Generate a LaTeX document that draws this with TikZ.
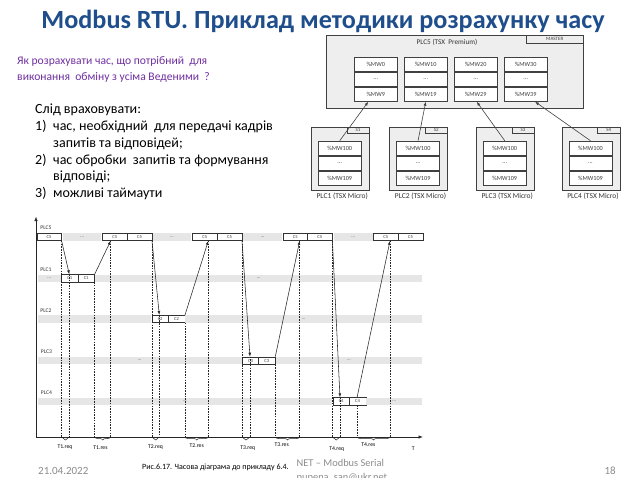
\documentclass[tikz,border=0pt]{standalone}
\usepackage{fontspec}
\setmainfont{Carlito}
\usetikzlibrary{arrows.meta,decorations.pathreplacing,calc}

\definecolor{titleblue}{HTML}{1F4E8C}
\definecolor{qpurple}{HTML}{7030A0}
\definecolor{footgray}{HTML}{8C8C8C}
\definecolor{linegray}{HTML}{404040}
\definecolor{boxfill}{HTML}{EEEEEE}
\definecolor{bandfill}{HTML}{E6E6E6}

\begin{document}
\begin{tikzpicture}[x=1pt,y=-1pt,
  % network sketch (top right)
  lnk/.style={draw=linegray, line width=0.6pt, -{Latex[length=4pt,width=3pt]}},
  reg/.style={draw=linegray, fill=white, line width=0.5pt, minimum width=43pt,
    minimum height=14.5pt, inner sep=0pt, font=\fontsize{6.2}{7}\selectfont, text=black!75},
  plcbox/.style={draw=linegray, fill=boxfill, line width=0.5pt, inner sep=0pt},
  tagbox/.style={draw=linegray, fill=boxfill, line width=0.5pt, inner sep=0pt,
    font=\fontsize{5}{5}\selectfont, text=black!75},
  plclbl/.style={font=\fontsize{7.5}{8}\selectfont, text=black!80, inner sep=0pt},
  % timing diagram
  tbox/.style={draw=black!80, fill=white, line width=0.5pt, minimum height=7.3pt,
    inner sep=0pt, anchor=north west, font=\fontsize{4.6}{5}\selectfont, text=black!75},
  mfr/.style={tbox, minimum width=24.6pt},
  sfr/.style={tbox, minimum width=16.4pt},
  band/.style={fill=bandfill, minimum height=7.3pt, inner sep=0pt, anchor=north west,
    font=\fontsize{4.6}{5}\selectfont, text=black!75},
  msg/.style={draw=black!85, line width=0.55pt, -{Latex[length=4pt,width=2.8pt]}},
  ev/.style={draw=black!85, dash pattern=on 1.6pt off 1.1pt, line width=0.55pt},
  brc/.style={draw=black!85, decorate, decoration={brace, mirror, amplitude=3pt}, line width=0.5pt},
  tl/.style={font=\fontsize{5.7}{6}\selectfont, inner sep=0pt},
  rowlbl/.style={font=\fontsize{5.6}{6}\selectfont, inner sep=0pt, text=black!80},
  axis/.style={draw=black!85, line width=0.7pt, -{Latex[length=4.5pt,width=3.4pt]}},
  body/.style={font=\fontsize{14}{16}\selectfont, inner sep=0pt, anchor=base west},
  foot/.style={inner sep=0pt, anchor=base west}
]
\useasboundingbox (0,0) rectangle (640,477);
\fill[white] (0,0) rectangle (640,477);

% ---------- title and text ----------
\node[font=\bfseries\fontsize{26.2}{30}\selectfont, text=titleblue, anchor=base, inner sep=0pt]
  (title) at (323,28) {Modbus RTU. Приклад методики розрахунку часу};

\node[font=\fontsize{11.6}{16}\selectfont, text=qpurple, anchor=base west, inner sep=0pt]
  (q1) at (17,64) {Як розрахувати час, що потрібний\ \ для};
\node[font=\fontsize{11.6}{16}\selectfont, text=qpurple, anchor=base west, inner sep=0pt]
  (q2) at (17,80.5) {виконання\ \ обміну з усіма Веденими\ \ ?};

\node[body] (h0) at (35,113) {Слід враховувати:};
\node[body] (n1) at (35,130) {1)};
\node[body] (t1) at (53,130) {час, необхідний\ \ для передачі кадрів};
\node[body] (t1b) at (53,147) {запитів та відповідей;};
\node[body] (n2) at (35,164) {2)};
\node[body] (t2) at (53,164) {час обробки\ \ запитів та формування};
\node[body] (t2b) at (53,180.5) {відповіді;};
\node[body] (n3) at (35,197) {3)};
\node[body] (t3) at (53,197) {можливі таймаути};

% ---------- master PLC ----------
\node[plcbox, minimum width=257pt, minimum height=72.5pt, anchor=north west] (plc5) at (326,35) {};
\node[tagbox, minimum width=57pt, minimum height=7.5pt, anchor=north east] (mtag) at (plc5.north east) {MASTER};
\node[plclbl, font=\fontsize{7.2}{8}\selectfont] (plc5l) at (447,42.5) {PLC5 (TSX\ \ Premium)};

\foreach \i/\a/\b in {0/0/9,1/10/19,2/20/29,3/30/39}{
  \node[reg, anchor=north west] (m\i-a) at ({354+50*\i},56.7) {\%MW\a};
  \node[reg, anchor=north] (m\i-b) at (m\i-a.south) {...};
  \node[reg, anchor=north] (m\i-c) at (m\i-b.south) {\%MW\b};
}

% ---------- slave PLCs ----------
\foreach \j/\xl in {1/311,2/389.3,3/476,4/561.7}{
  \node[plcbox, minimum width=58pt, minimum height=63.3pt, anchor=north west] (p\j) at (\xl,126.7) {};
  \node[tagbox, minimum width=22.5pt, minimum height=6pt, anchor=north east] (s\j) at (p\j.north east) {S\j};
  \node[reg, anchor=north west] (r\j-a) at ({\xl+7},140.7) {\%MW100};
  \node[reg, anchor=north] (r\j-b) at (r\j-a.south) {...};
  \node[reg, anchor=north] (r\j-c) at (r\j-b.south) {\%MW109};
  \node[plclbl] (p\j l) at ([xshift=2pt,yshift=-6pt]p\j.south) {PLC\j\ (TSX Micro)};
}

\draw[lnk] (r1-a.north) -- ([xshift=14.3pt]m0-c.south west);
\draw[lnk] (r2-a.north) -- (m1-c.south);
\draw[lnk] (r3-a.north) -- ([xshift=22.7pt]m2-c.south west);
\draw[lnk] (r4-a.north) -- ([xshift=31pt]m3-c.south west);

% ---------- timing diagram ----------
\coordinate (o) at (36,437);
\coordinate (yt) at (36,216.5);
\coordinate (xe) at (423,437);

% PLC5 row
\node[rowlbl] (l5) at (46,228) {PLC5};
\node[mfr] (c5a) at (36.5,233) {C5};
\node[band, minimum width=38pt] (b5a) at (63,233) {...};
\node[mfr] (c5b) at (102.3,233) {C5};
\node[mfr] (c5c) at (126.9,233) {C5};
\node[band, minimum width=38.7pt] (b5b) at (152.5,233) {...};
\node[mfr] (c5d) at (192.3,233) {C5};
\node[mfr] (c5e) at (216.9,233) {C5};
\node[band, minimum width=38.5pt] (b5c) at (243.2,233) {...};
\node[mfr] (c5f) at (282.7,233) {C5};
\node[mfr] (c5g) at (307.3,233) {C5};
\node[band, minimum width=38.8pt] (b5d) at (333.5,233) {...};
\node[mfr] (c5h) at (373.3,233) {C5};
\node[mfr] (c5i) at (397.9,233) {C5};

% PLC1 row
\node[rowlbl] (l1) at (46,269.5) {PLC1};
\node[band, minimum width=23pt] (b1a) at (37.5,274.3) {...};
\node[sfr] (c1a) at (61.3,274.3) {C1};
\node[sfr] (c1b) at (77.7,274.3) {C1};
\node[band, minimum width=327pt] (b1b) at (95,274.3) {...};

% PLC2 row
\node[rowlbl] (l2) at (46,310.5) {PLC2};
\node[band, minimum width=113.5pt] (b2a) at (37.5,315) {...};
\node[sfr] (c2a) at (151.7,315) {C2};
\node[sfr] (c2b) at (168.1,315) {C2};
\node[band, minimum width=237pt] (b2b) at (185,315) {...};

% PLC3 row
\node[rowlbl] (l3) at (46.5,352) {PLC3};
\node[band, minimum width=203.8pt] (b3a) at (37.5,356.7) {...};
\node[sfr] (c3a) at (242,356.7) {C3};
\node[sfr] (c3b) at (258.4,356.7) {C3};
\node[band, minimum width=146.5pt] (b3b) at (275.5,356.7) {...};

% PLC4 row
\node[rowlbl] (l4) at (46.5,392.5) {PLC4};
\node[band, minimum width=294.5pt] (b4a) at (37.5,397.3) {...};
\node[sfr] (c4a) at (332.7,397.3) {C4};
\node[sfr] (c4b) at (349.1,397.3) {C4};
\node[band, minimum width=56pt] (b4b) at (366,397.3) {...};

% axes
\draw[axis] (o) -- (yt);
\draw[axis] (o) -- (xe);

% request / response messages
\coordinate (d1) at (c5a.south east);
\coordinate (d2) at ([xshift=8pt]c1a.north west);
\coordinate (d3) at (c1b.south east);
\coordinate (d4) at ([xshift=8.4pt]c5b.south west);
\coordinate (d5) at (c5c.south east);
\coordinate (d6) at ([xshift=7.6pt]c2a.north west);
\coordinate (d7) at (c2b.south east);
\coordinate (d8) at ([xshift=16pt]c5d.south west);
\coordinate (d9) at (c5e.south east);
\coordinate (d10) at ([xshift=8pt]c3a.north west);
\coordinate (d11) at (c3b.south east);
\coordinate (d12) at ([xshift=17pt]c5f.south west);
\coordinate (d13) at (c5g.south east);
\coordinate (d14) at ([xshift=7.3pt]c4a.north west);
\coordinate (d15) at ([xshift=8pt]c4b.south west);
\coordinate (d16) at ([xshift=16.7pt]c5h.south west);

\draw[msg] (c5a.south east) -- (d2);
\draw[msg] (c1b.north east) -- (d4);
\draw[msg] (c5c.south east) -- (d6);
\draw[msg] (c2b.north east) -- (d8);
\draw[msg] (c5e.south east) -- (d10);
\draw[msg] (c3b.north east) -- (d12);
\draw[msg] (c5g.south east) -- (d14);
\draw[msg] ([xshift=8pt]c4b.north west) -- (d16);

% time marks and intervals
\foreach \d in {d1,d2,d3,d4,d5,d6,d7,d8,d9,d10,d11,d12,d13,d14,d15,d16}
  \draw[ev] (\d) -- (\d |- o);

\draw[brc] (d1 |- o) -- (d2 |- o);
\draw[brc] (d3 |- o) -- (d4 |- o);
\draw[brc] (d5 |- o) -- (d6 |- o);
\draw[brc] (d7 |- o) -- (d8 |- o);
\draw[brc] (d9 |- o) -- (d10 |- o);
\draw[brc] (d11 |- o) -- (d12 |- o);
\draw[brc] (d13 |- o) -- (d14 |- o);
\draw[brc] (d15 |- o) -- (d16 |- o);

\node[tl] (T1q) at (65,447.5) {T1.req};
\node[tl] (T1r) at (100.5,447.5) {T1.res};
\node[tl] (T2q) at (155.5,447.5) {T2.req};
\node[tl] (T2r) at (196.7,446) {T2.res};
\node[tl] (T3q) at (247.7,448) {T3.req};
\node[tl] (T3r) at (281.7,444.5) {T3.res};
\node[tl] (T4q) at (336.7,449) {T4.req};
\node[tl] (T4r) at (368.3,445) {T4.res};
\node[tl] (Tax) at (413.3,449) {T};

% ---------- footer ----------
\node[foot, font=\fontsize{11}{12}\selectfont, text=footgray] (date) at (38,474) {21.04.2022};
\node[foot, font=\fontsize{11}{12}\selectfont, text=footgray, anchor=base east] (page) at (616,474) {18};
\node[foot, font=\fontsize{8}{9}\selectfont] (cap) at (142,469.5) {Рис.6.17. Часова діаграма до прикладу 6.4.};
\node[foot, font=\fontsize{10.4}{11}\selectfont, text=footgray] (net) at (296.5,466.5) {NET -- Modbus Serial};
\node[foot, font=\fontsize{10.4}{11}\selectfont, text=footgray] (mail) at (296.5,480.5) {pupena\_san@ukr.net};
\end{tikzpicture}
\end{document}
